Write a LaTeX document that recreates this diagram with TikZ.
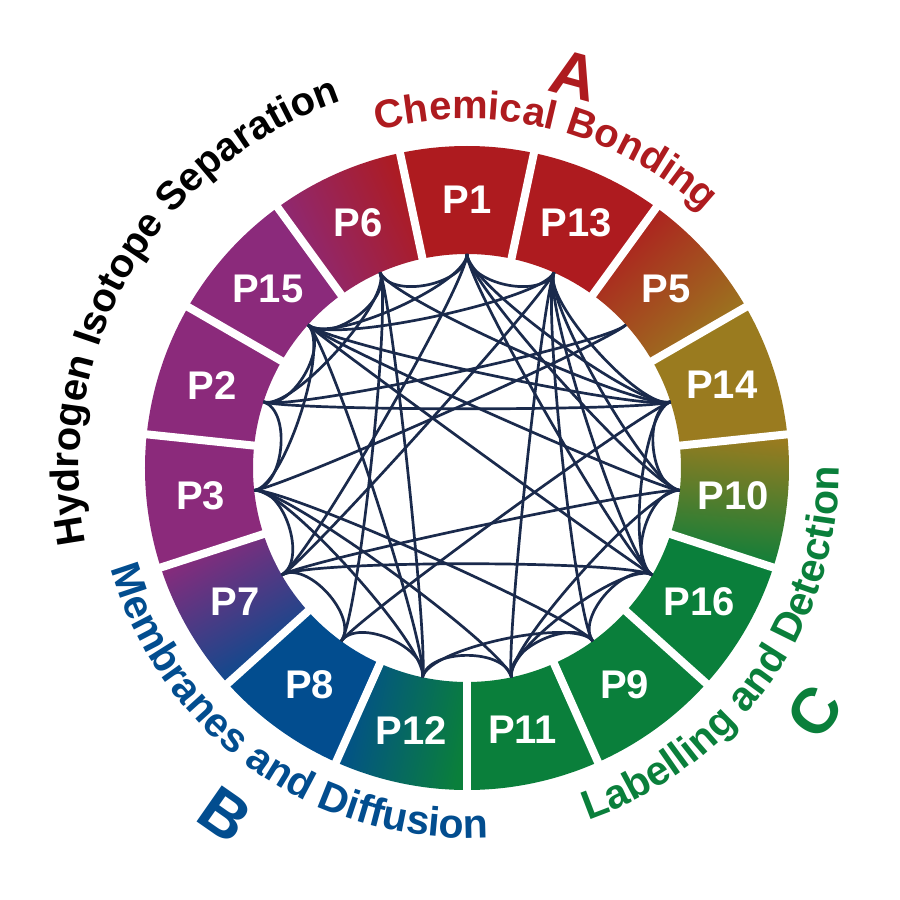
\documentclass[tikz,border=0pt]{standalone}
\usepackage{fontspec}
\setmainfont{Liberation Sans}
\usetikzlibrary{calc,decorations.text}
\definecolor{cred}{HTML}{AE1B1F}
\definecolor{colive}{HTML}{9A7B1F}
\definecolor{cgreen}{HTML}{0A7F3B}
\definecolor{cblue}{HTML}{024D8F}
\definecolor{cpurple}{HTML}{8B2A7B}
\definecolor{edgecol}{HTML}{1A2A4C}
\newcommand\ringseg[2]{\path[#2] ({#1-12}:214) arc[start angle={#1-12}, end angle={#1+12}, radius=214] -- ({#1+12}:322) arc[start angle={#1+12}, end angle={#1-12}, radius=322] -- cycle;}
\begin{document}
\begin{tikzpicture}[x=1pt,y=1pt,
  linkline/.style={draw=edgecol, line width=2.7pt},
  seglabel/.style={text=white, font=\fontsize{40}{44}\selectfont\bfseries, inner sep=0pt},
  bigletter/.style={font=\fontsize{64}{66}\selectfont\bfseries, inner sep=0pt}]
\fill[white] (-467,-432) rectangle (433,468);
\useasboundingbox (-467,-432) rectangle (433,468);
\coordinate (O) at (0,0);
% ring segments
\ringseg{90}{fill=cred}
\ringseg{66}{fill=cred}
\ringseg{42}{left color=cred, right color=colive, shading angle=42}
\ringseg{18}{fill=colive}
\ringseg{-6}{left color=colive, right color=cgreen, shading angle=-6}
\ringseg{-30}{fill=cgreen}
\ringseg{-54}{fill=cgreen}
\ringseg{-78}{fill=cgreen}
\ringseg{-102}{left color=cgreen, right color=cblue, shading angle=-102}
\ringseg{-126}{fill=cblue}
\ringseg{-150}{left color=cblue, right color=cpurple, shading angle=-150}
\ringseg{-174}{fill=cpurple}
\ringseg{162}{fill=cpurple}
\ringseg{138}{fill=cpurple}
\ringseg{114}{left color=cpurple, right color=cred, shading angle=114}
\foreach \k in {0,...,14} \draw[white, line width=8pt] ({102-24*\k}:205) -- ({102-24*\k}:332);
% graph nodes and labels
\foreach \n/\a in {1/90,13/66,5/42,14/18,10/-6,16/-30,9/-54,11/-78,12/-102,8/-126,7/-150,3/-174,2/162,15/138,6/114} {
  \coordinate (N\n) at (\a:214);
  \node[seglabel] (L\n) at (\a:268) {P\n};
}
% connectors
\foreach \a/\b in {1/6,1/13,6/15,15/2,2/3,3/7,7/8,8/12,12/11,11/9,9/16,16/10,10/14,
  13/14,14/16,16/11,9/12,15/3,
  1/15,1/7,1/14,1/10,1/16,13/16,13/9,13/11,13/15,13/10,13/7,5/2,5/3,
  14/2,14/6,14/15,14/8,10/15,10/7,10/11,16/15,16/7,9/3,11/3,12/15,12/3,12/6,8/6,6/2}
  \draw[linkline] (N\a) .. controls ($(N\a)!0.14!(O)$) and ($(N\b)!0.14!(O)$) .. (N\b);
% curved titles
\path[decorate, decoration={text along path, text align=center, text color=cred,
  text={|\fontsize{40}{40}\selectfont\bfseries|Chemical Bonding}}]
  (136:349) arc[start angle=136, end angle=16, radius=349];
\path[decorate, decoration={text along path, text align=center, text color=black,
  text={|\fontsize{40}{40}\selectfont\bfseries|Hydrogen Isotope Separation}}]
  (210:388) arc[start angle=210, end angle=90, radius=388];
\path[decorate, decoration={text along path, text align=center, text color=cblue,
  text={|\fontsize{41}{40}\selectfont\bfseries|Membranes and Diffusion}}]
  (174.6:370) arc[start angle=174.6, end angle=294.6, radius=370];
\path[decorate, decoration={text along path, text align=center, text color=cgreen,
  text={|\fontsize{41}{40}\selectfont\bfseries|Labelling and Detection}}]
  (264.6:372) arc[start angle=264.6, end angle=384.6, radius=372];
\node[bigletter, text=cred, rotate=-15.4] (LA) at (74.6:407) {A};
\node[bigletter, text=cblue, rotate=-34.9] (LB) at (235.1:423) {B};
\node[bigletter, text=cgreen, rotate=55] (LC) at (-35:425) {C};
\end{tikzpicture}
\end{document}
